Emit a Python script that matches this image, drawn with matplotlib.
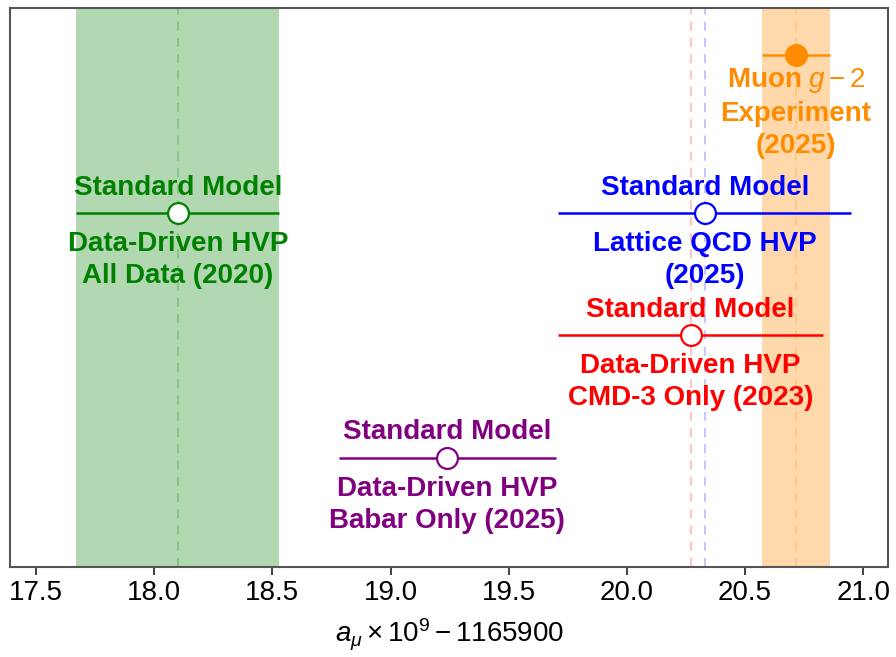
import matplotlib
matplotlib.use("Agg")
import matplotlib.pyplot as plt

plt.rcParams['font.family'] = ['Liberation Sans', 'DejaVu Sans']
plt.rcParams['mathtext.fontset'] = 'custom'
plt.rcParams['mathtext.rm'] = 'Liberation Sans'
plt.rcParams['mathtext.it'] = 'Liberation Sans:italic'
plt.rcParams['mathtext.bf'] = 'Liberation Sans:bold'

# results: a_mu x 10^9 - 1165900
sm2020_val, sm2020_err = 18.10, 0.43
exp_val, exp_err = 20.715, 0.145
lattice_val, lattice_err = 20.33, 0.62
cmd3_val, cmd3_err = 20.27, 0.56
babar_val, babar_err = 19.24, 0.46

# vertical slots for each entry
y_exp = 0.916
y_upper = 0.633
y_cmd3 = 0.415
y_babar = 0.195

xticks = [17.5, 18.0, 18.5, 19.0, 19.5, 20.0, 20.5, 21.0]

fig = plt.figure(figsize=(8.96, 6.57), dpi=100)
ax = fig.add_axes([10/896, 1 - 567/657, 878/896, 559/657])

# bands for 2020 SM and experiment
ax.axvspan(sm2020_val - sm2020_err, sm2020_val + sm2020_err, color='green', alpha=0.3, lw=0)
ax.axvspan(exp_val - exp_err, exp_val + exp_err, color='darkorange', alpha=0.33, lw=0)

# dashed central values
for v, c in [(sm2020_val, 'green'), (exp_val, 'darkorange'),
             (lattice_val, 'blue'), (cmd3_val, 'red')]:
    ax.axvline(v, color=c, ls=(0, (5, 4)), lw=1.3, alpha=0.25)


def point(val, err, y, color, filled=False):
    ax.errorbar(val, y, xerr=err, fmt='o', color=color, ms=15, mew=1.6,
                mfc=color if filled else 'white', mec=color, elinewidth=1.8,
                capsize=0, zorder=5)


def label_above(val, y, txt, color):
    ax.annotate(txt, (val, y), xytext=(0, 9), textcoords='offset points',
                ha='center', va='bottom', fontsize=20, fontweight='bold', color=color)


def label_below(val, y, txt, color, dy=-13):
    ax.annotate(txt, (val, y), xytext=(0, dy), textcoords='offset points',
                ha='center', va='top', fontsize=20, fontweight='bold', color=color,
                linespacing=1.3)


point(sm2020_val, sm2020_err, y_upper, 'green')
label_above(sm2020_val, y_upper, 'Standard Model', 'green')
label_below(sm2020_val, y_upper, 'Data-Driven HVP\nAll Data (2020)', 'green')

point(exp_val, exp_err, y_exp, 'darkorange', filled=True)
label_below(exp_val, y_exp, 'Muon $g-2$\nExperiment\n(2025)', 'darkorange', dy=-8)

point(lattice_val, lattice_err, y_upper, 'blue')
label_above(lattice_val, y_upper, 'Standard Model', 'blue')
label_below(lattice_val, y_upper, 'Lattice QCD HVP\n(2025)', 'blue')

point(cmd3_val, cmd3_err, y_cmd3, 'red')
label_above(cmd3_val, y_cmd3, 'Standard Model', 'red')
label_below(cmd3_val, y_cmd3, 'Data-Driven HVP\nCMD-3 Only (2023)', 'red')

point(babar_val, babar_err, y_babar, 'purple')
label_above(babar_val, y_babar, 'Standard Model', 'purple')
label_below(babar_val, y_babar, 'Data-Driven HVP\nBabar Only (2025)', 'purple')

ax.set_xlim(17.39, 21.105)
ax.set_ylim(0, 1)
ax.set_yticks([])
ax.set_xticks(xticks)
ax.set_xticklabels(['%.1f' % t for t in xticks])
ax.tick_params(axis='x', labelsize=20, length=6, width=1.3, color='#333333')
for s in ax.spines.values():
    s.set_color('#555555')
    s.set_linewidth(1.5)
ax.set_xlabel(r'$a_{\mu} \times 10^{9} - 1165900$', fontsize=20, labelpad=8)

fig.savefig('out.png', dpi=100)
